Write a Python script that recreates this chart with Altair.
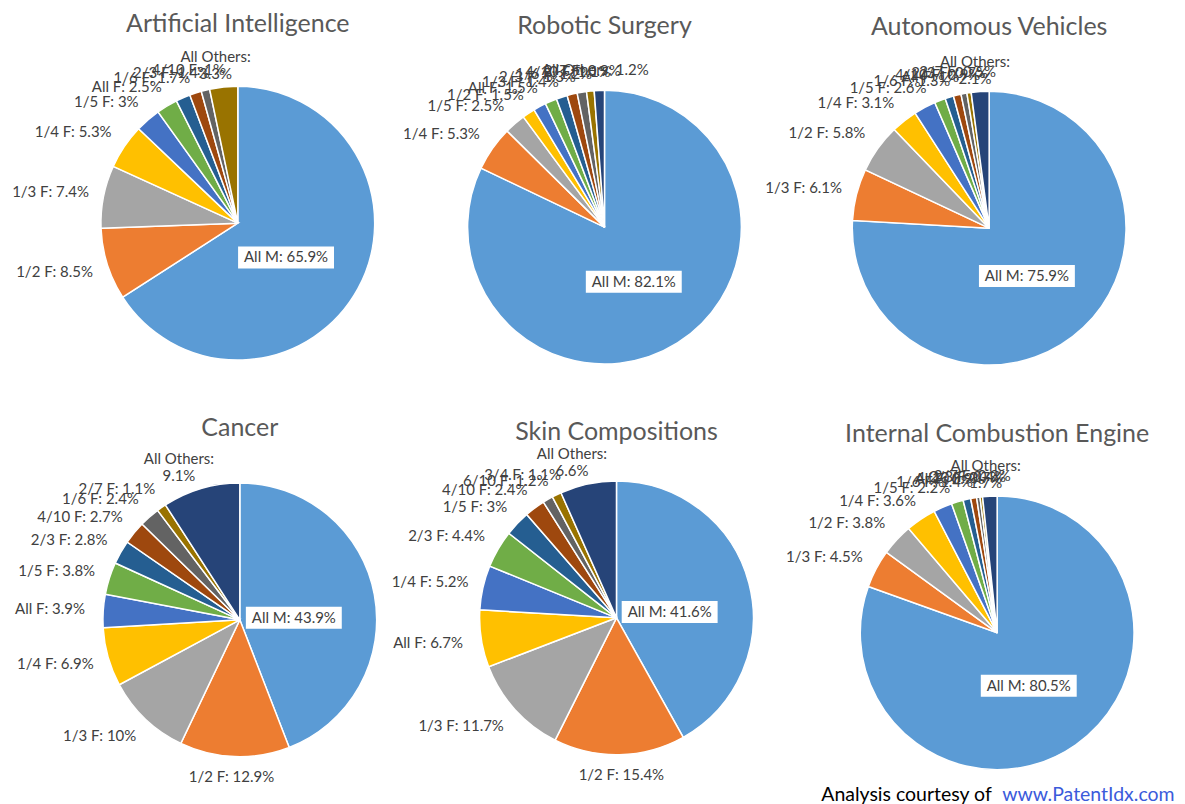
import math
import altair as alt
import pandas as pd

# ---- data ----
charts = ["Artificial Intelligence", "Robotic Surgery", "Autonomous Vehicles",
          "Cancer", "Skin Compositions", "Internal Combustion Engine"]

ai_names = ["All M", "1/2 F", "1/3 F", "1/4 F", "1/5 F", "All F", "1/6 F", "2/3 F", "4/10 F", "All Others"]
ai_values = [65.9, 8.5, 7.4, 5.3, 3, 2.5, 1.7, 1.4, 1, 3.3]

rs_names = ["All M", "1/4 F", "1/5 F", "1/2 F", "All F", "1/3 F", "2/3 F", "1/6 F", "4/10 F", "2/7 F", "All Others"]
rs_values = [82.1, 5.3, 2.5, 1.5, 1.5, 1.4, 1.3, 1.2, 1.1, 0.9, 1.2]

av_names = ["All M", "1/3 F", "1/2 F", "1/4 F", "1/5 F", "1/6 F", "All F", "4/10 F", "2/3 F", "2/7 F", "All Others"]
av_values = [75.9, 6.1, 5.8, 3.1, 2.6, 1.3, 1.0, 0.9, 0.7, 0.5, 2.1]

cancer_names = ["All M", "1/2 F", "1/3 F", "1/4 F", "All F", "1/5 F", "2/3 F", "4/10 F", "1/6 F", "2/7 F", "All Others"]
cancer_values = [43.9, 12.9, 10, 6.9, 3.9, 3.8, 2.8, 2.7, 2.4, 1.1, 9.1]

skin_names = ["All M", "1/2 F", "1/3 F", "All F", "1/4 F", "2/3 F", "1/5 F", "4/10 F", "6/10 F", "3/4 F", "All Others"]
skin_values = [41.6, 15.4, 11.7, 6.7, 5.2, 4.4, 3, 2.4, 1.2, 1.1, 6.6]

ice_names = ["All M", "1/3 F", "1/2 F", "1/4 F", "1/5 F", "1/6 F", "All F", "4/10 F", "2/3 F", "2/7 F", "All Others"]
ice_values = [80.5, 4.5, 3.8, 3.6, 2.2, 1.4, 0.9, 0.7, 0.4, 0.3, 1.7]

wrap_others = [True, False, True, True, True, True]

series = [(ai_names, ai_values), (rs_names, rs_values), (av_names, av_values),
          (cancer_names, cancer_values), (skin_names, skin_values), (ice_names, ice_values)]

rows = []
for c, (names, vals), wr in zip(charts, series, wrap_others):
    for i, (n, v) in enumerate(zip(names, vals)):
        rows.append({"chart": c, "idx": i, "name": n, "value": v,
                     "wrap": bool(wr and n == "All Others")})
df = pd.DataFrame(rows)

# ---- style / layout ----
PALETTE = ["#5B9BD5", "#ED7D31", "#A5A5A5", "#FFC000", "#4472C4", "#70AD47",
           "#255E91", "#9E480E", "#636363", "#997300", "#264478"]
FONT = "Lato"
PW, PH = 390, 394
R = 137
centers = {  # pie centre inside each panel (px from left, px from top)
    "Artificial Intelligence": (230, 215),
    "Robotic Surgery": (207, 219),
    "Autonomous Vehicles": (202, 220),
    "Cancer": (232, 218),
    "Skin Compositions": (219, 216),
    "Internal Combustion Engine": (210, 231),
}
title_rise = {  # title height above pie centre (px)
    "Artificial Intelligence": 199,
    "Robotic Surgery": 201,
    "Autonomous Vehicles": 201,
    "Cancer": 192,
    "Skin Compositions": 186,
    "Internal Combustion Engine": 199,
}
LABEL_R = R + 12
IN_R = 55
CHAR_W = 7.5


def panel(name, footer=False):
    cx, cy = centers[name]
    xs = alt.Scale(domain=[-cx, PW - cx], nice=False, zero=False)
    ys = alt.Scale(domain=[-(PH - cy), cy], nice=False, zero=False)

    base = (
        alt.Chart(df)
        .transform_filter(alt.datum.chart == name)
        .transform_joinaggregate(total="sum(value)")
        .transform_window(cum="sum(value)", sort=[alt.SortField("idx")], frame=[None, 0])
        .transform_calculate(
            t0="(datum.cum - datum.value) / datum.total",
            t1="datum.cum / datum.total",
            ang="PI * (2 * datum.cum - datum.value) / datum.total",
            label="datum.wrap ? datum.name + ':\\n' + datum.value + '%' : datum.name + ': ' + datum.value + '%'",
            w="(datum.wrap ? length(datum.name) + 1 : length(datum.name + ': ' + datum.value + '%')) * " + str(CHAR_W),
            h="datum.wrap ? 36 : 17",
        )
        .transform_calculate(
            s="sin(datum.ang)",
            c="cos(datum.ang)",
        )
        .transform_calculate(
            lx=f"datum.idx == 0 ? datum.s * {IN_R} : datum.s * {LABEL_R} + clamp(datum.s * 1.6, -1, 1) * datum.w / 2",
            ly=f"datum.idx == 0 ? datum.c * {IN_R} - 8 : datum.c * {LABEL_R} + clamp(datum.c * 1.6, -1, 1) * datum.h / 2",
        )
        .transform_calculate(
            bx0="datum.lx - datum.w / 2 - 3",
            bx1="datum.lx + datum.w / 2 + 3",
            by0="datum.ly - 11",
            by1="datum.ly + 11",
        )
    )

    arcs = base.mark_arc(outerRadius=R, stroke="white", strokeWidth=1.5).encode(
        x=alt.datum(0, scale=xs, axis=None),
        y=alt.datum(0, scale=ys, axis=None),
        theta=alt.Theta("t0:Q", scale=alt.Scale(domain=[0, 1], range=[0, 2 * math.pi])),
        theta2="t1:Q",
        color=alt.Color("idx:N", scale=alt.Scale(domain=list(range(11)), range=PALETTE), legend=None),
    )

    box = base.transform_filter("datum.idx == 0").mark_rect(fill="white").encode(
        x=alt.X("bx0:Q", scale=xs, axis=None),
        x2="bx1:Q",
        y=alt.Y("by0:Q", scale=ys, axis=None),
        y2="by1:Q",
    )

    labels = base.mark_text(font=FONT, fontSize=15, color="#404040", lineBreak="\n",
                            align="center", baseline="middle").encode(
        x=alt.X("lx:Q", scale=xs, axis=None),
        y=alt.Y("ly:Q", scale=ys, axis=None),
        text="label:N",
    )

    title = alt.Chart(pd.DataFrame({"t": [name]})).mark_text(
        font=FONT, fontSize=25, color="#595959", align="center", baseline="middle"
    ).encode(
        x=alt.datum(0, scale=xs, axis=None),
        y=alt.datum(title_rise[name], scale=ys, axis=None),
        text="t:N",
    )

    layers = [arcs, box, labels, title]
    if footer:
        foot = pd.DataFrame({"a": ["Analysis courtesy of"], "b": ["www.PatentIdx.com"]})
        layers.append(alt.Chart(foot).mark_text(font=FONT, fontSize=19.5, color="#000000",
                                                align="left", baseline="middle").encode(
            x=alt.value(34), y=alt.value(393), text="a:N"))
        layers.append(alt.Chart(foot).mark_text(font=FONT, fontSize=19.5, color="#3B5BDB",
                                                align="left", baseline="middle").encode(
            x=alt.value(215), y=alt.value(393), text="b:N"))

    return alt.layer(*layers).properties(width=PW, height=PH)


panels = [panel(n, footer=(n == charts[-1])) for n in charts]
chart = (
    alt.concat(*panels, columns=3, spacing=0, bounds="flush")
    .properties(padding=0, background="white")
    .configure_view(stroke=None)
)

chart.save("out.html", embed_options={"renderer": "svg", "actions": False})
